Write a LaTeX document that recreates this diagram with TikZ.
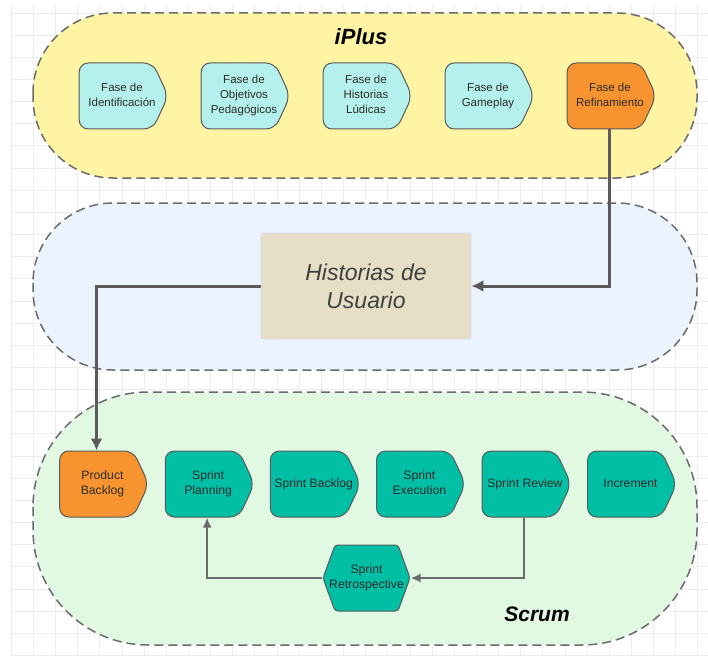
\documentclass[tikz,border=0pt]{standalone}
\usepackage{fontspec}
\setmainfont{Liberation Sans}
\usetikzlibrary{shapes,arrows.meta,positioning}
\definecolor{pillyellow}{HTML}{FFF4A3}
\definecolor{pillblue}{HTML}{EAF3FE}
\definecolor{pillgreen}{HTML}{E1F8E2}
\definecolor{fasecyan}{HTML}{B4F1EC}
\definecolor{naranja}{HTML}{F7942F}
\definecolor{scrumteal}{HTML}{00BFA5}
\definecolor{beige}{HTML}{E6DFC6}
\definecolor{edgegray}{HTML}{5A5A5A}
\definecolor{textgray}{HTML}{2B2B2B}
\definecolor{gridgray}{HTML}{ECECEC}
\newcommand{\etapa}[1]{\hspace*{12pt}\begin{tabular}{@{}c@{}}#1\end{tabular}}

\begin{document}
\begin{tikzpicture}[x=1pt, y=-1pt, node distance=122pt,
    fase/.style={shape=signal, signal to=east, signal pointer angle=130, draw=edgegray, line width=1pt, rounded corners=9pt, minimum width=89pt, minimum height=66pt, text=textgray, inner ysep=1pt, inner xsep=-8pt, font=\fontsize{11.5}{15}\selectfont},
    sprint/.style={fase, fill=scrumteal, font=\fontsize{12.2}{15.5}\selectfont},
    pill/.style={draw=edgegray!90, line width=1.5pt, dash pattern=on 9pt off 5pt},
    thickline/.style={->, >={Latex[length=12pt,width=12pt]}, draw=edgegray, line width=3pt},
    thinline/.style={->, >={Latex[length=10pt,width=9pt]}, draw=edgegray!90, line width=2pt}]
    \useasboundingbox (0,0) rectangle (708,655);
    \fill[white] (0,0) rectangle (708,655);
    % Cuadricula
    \foreach \gx in {0,...,31}
        \draw[gridgray, line width=0.8pt] ({11.2+22.15*\gx},5) -- ({11.2+22.15*\gx},655);
    \foreach \gy in {0,...,29}
        \draw[gridgray, line width=0.8pt] (11,{13+22.15*\gy}) -- (708,{13+22.15*\gy});

    % Contenedores
    \draw[pill, fill=pillyellow, rounded corners=80pt] (33,13) rectangle (697,178);
    \draw[pill, fill=pillblue, rounded corners=80pt] (33,203) rectangle (697,370);
    \draw[pill, fill=pillgreen, rounded corners=115pt] (33,392) rectangle (697,645);

    % Fases iPlus
    \node[fase, fill=fasecyan] (ident) at (116,96) {\etapa{Fase de\\Identificación}};
    \node[fase, fill=fasecyan, right of=ident] (objet) {\etapa{Fase de\\Objetivos\\Pedagógicos}};
    \node[fase, fill=fasecyan, right of=objet] (ludic) {\etapa{Fase de\\Historias\\Lúdicas}};
    \node[fase, fill=fasecyan, right of=ludic] (game) {\etapa{Fase de\\Gameplay}};
    \node[fase, fill=naranja, right of=game] (refin) {\etapa{Fase de\\Refinamiento}};
    \node[font=\fontsize{22}{26}\selectfont\bfseries\itshape] (iplus) at (361,37) {iPlus};

    % Historias de usuario
    \node[draw=blue!15, line width=0.8pt, fill=beige, rounded corners=2pt, minimum width=210pt, minimum height=106pt, align=center, text=textgray!90, font=\fontsize{23}{28}\selectfont\itshape] (hist) at (366,286) {Historias de\\Usuario};

    % Etapas Scrum
    \node[sprint, fill=naranja] (pback) at (96.5,484) {\etapa{Product\\Backlog}};
    \node[sprint, right of=pback, node distance=105.6pt] (plan) {\etapa{Sprint\\Planning}};
    \node[sprint, right of=plan, node distance=105.6pt] (sback) {\etapa{Sprint Backlog}};
    \node[sprint, right of=sback, node distance=105.6pt] (exec) {\etapa{Sprint\\Execution}};
    \node[sprint, right of=exec, node distance=105.6pt] (review) {\etapa{Sprint Review}};
    \node[sprint, right of=review, node distance=105.6pt] (incr) {\etapa{Increment}};
    \node[sprint, signal to=east and west, signal pointer angle=140, rounded corners=3pt, inner xsep=-12pt, minimum width=87pt, align=center] (retro) at (366.5,578) {Sprint\\Retrospective};
    \node[font=\fontsize{21}{25}\selectfont\bfseries\itshape] (scrum) at (537,614) {Scrum};

    % Flechas
    \draw[thickline] ([xshift=5pt]refin.south) |- (hist.east);
    \draw[thickline] (hist.west) -| (pback.north);
    \draw[thinline] ([xshift=5pt]review.south) |- (retro.east);
    \draw[thinline] (retro.west) -| ([xshift=5pt]plan.south);
\end{tikzpicture}
\end{document}
